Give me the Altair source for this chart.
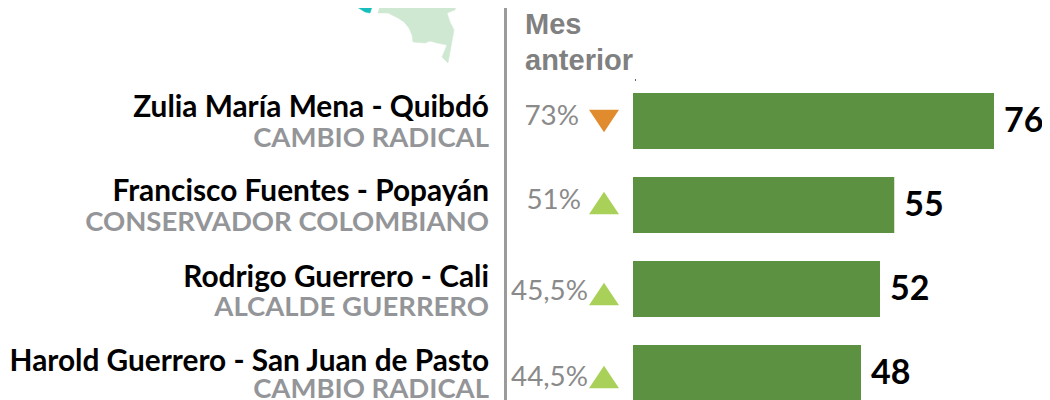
import altair as alt
import pandas as pd

names = ["Zulia María Mena - Quibdó", "Francisco Fuentes - Popayán",
         "Rodrigo Guerrero - Cali", "Harold Guerrero - San Juan de Pasto"]
parties = ["CAMBIO RADICAL", "CONSERVADOR COLOMBIANO", "ALCALDE GUERRERO", "CAMBIO RADICAL"]
values = [76, 55, 52, 48]
previous = ["73%", "51%", "45,5%", "44,5%"]
trend = ["down", "up", "up", "up"]

land = [(378, 0), (380, 6), (378, 13), (380, 13), (388, 13), (398, 18), (404, 22), (409, 28),
        (412, 35), (413, 42), (425, 43), (430, 41), (437, 43), (447, 45), (442, 57), (448, 63),
        (454, 30), (450, 22), (447, 13), (455, 10), (456, 6), (448, 0)]
dept = [(348, 0), (357, 7), (365, 12), (370, 13), (372, 7), (382, 7), (378, 0)]

df = pd.DataFrame({"name": names, "party": parties, "value": values,
                   "previous": previous, "trend": trend})
sort = names


def poly(points, color):
    ring = [[x, y] for x, y in points] + [[points[0][0], points[0][1]]]
    feature = {"type": "Feature", "properties": {},
               "geometry": {"type": "Polygon", "coordinates": [ring]}}
    return alt.Chart(alt.Data(values=[feature])).mark_geoshape(
        fill=color, stroke=color, strokeWidth=0.5
    ).project(type="identity", scale=1, translate=[-8, -8])


y = alt.Y("name:N", sort=sort, axis=None,
          scale=alt.Scale(range=[85, 393], paddingInner=1 / 3, paddingOuter=0))
x = alt.X("value:Q", axis=None, scale=alt.Scale(domain=[0, 100], range=[625, 1100]))

base = alt.Chart(df)
bars = base.mark_bar(color="#5B9140").encode(x=x, y=y)
labels = base.mark_text(align="left", dx=10, dy=1, font="Lato", fontWeight="bold",
                        fontSize=34, color="#000000").encode(x=x, y=y, text="value:Q")

layers = [poly(land, "#CFE8D2"), poly(dept, "#17BEBB")]
layers.append(alt.Chart(df.head(1)).mark_rule(color="#9B9B9B", strokeWidth=3).encode(
    x=alt.value(497.5), y=alt.value(0), y2=alt.value(392)))
layers.append(alt.Chart(df.head(1)).mark_rule(color="#666666", strokeWidth=1).encode(
    x=alt.value(627.5), y=alt.value(71), y2=alt.value(73)))
layers.append(alt.Chart(df.head(1)).mark_text(
    align="left", baseline="alphabetic", font="Liberation Sans", fontWeight="bold",
    fontSize=29, color="#808080", lineHeight=36,
    text=["Mes", "anterior"]).encode(x=alt.value(517), y=alt.value(26)))
layers += [bars, labels]

name_dy = [-13, -13.5, -11.5, -11.5]
party_dy = [18, 17.5, 18.5, 16.5]
prev_x = [571, 573, 580, 580]
prev_dy = [-4, -4.5, 2.5, 5]
tri_off = [0, -2, 5, 4]
tri_domain = ["down", "up"]
tri_paths = ["M-1,-0.75L1,-0.75L0,0.75Z", "M0,-0.75L-1,0.75L1,0.75Z"]
tri_colors = ["#E08B2E", "#A9D15A"]
for i, n in enumerate(names):
    row = base.transform_filter(alt.datum.name == n)
    layers.append(row.mark_text(align="right", font="Lato", fontWeight="bold", fontSize=29.8,
                                color="#000000", dy=name_dy[i]).encode(
        x=alt.value(481), y=y, text="name:N"))
    layers.append(row.mark_text(align="right", font="Lato", fontWeight="bold", fontSize=27.5,
                                color="#939598", dy=party_dy[i]).encode(
        x=alt.value(481), y=y, text="party:N"))
    layers.append(row.mark_text(align="right", font="Lato", fontSize=27.8,
                                color="#8A8A8A", dy=prev_dy[i]).encode(
        x=alt.value(prev_x[i]), y=y, text="previous:N"))
    layers.append(row.mark_point(filled=True, opacity=1, size=900, yOffset=tri_off[i]).encode(
        x=alt.value(596), y=y,
        shape=alt.Shape("trend:N", legend=None,
                        scale=alt.Scale(domain=tri_domain, range=tri_paths)),
        color=alt.Color("trend:N", legend=None,
                        scale=alt.Scale(domain=tri_domain, range=tri_colors))))

chart = alt.layer(*layers).properties(
    width=1034, height=392, padding=0, autosize=alt.AutoSizeParams(type="none")
).configure_view(stroke=None)

chart.save("out.html", embed_options={"renderer": "svg", "actions": False})
